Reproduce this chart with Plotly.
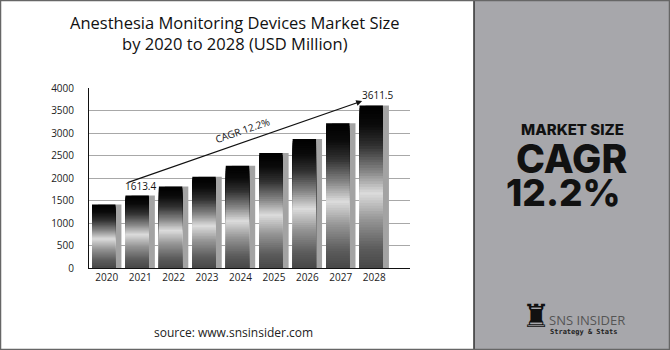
import plotly.graph_objects as go

years = ["2020", "2021", "2022", "2023", "2024", "2025", "2026", "2027", "2028"]
market_size = [1410, 1613.4, 1810, 2030, 2270, 2555, 2865, 3215, 3611.5]
y_ticks = [0, 500, 1000, 1500, 2000, 2500, 3000, 3500, 4000]
cagr_text = "CAGR 12.2%"

# gradient stops (fraction from bar bottom -> rgb)
stops = [(0.0, (72, 72, 72)), (0.12, (92, 92, 92)), (0.30, (150, 150, 150)),
         (0.46, (220, 220, 220)), (0.60, (130, 130, 130)), (0.75, (50, 50, 50)),
         (0.88, (10, 10, 10)), (1.0, (0, 0, 0))]


def grad(f):
    for (f0, c0), (f1, c1) in zip(stops[:-1], stops[1:]):
        if f0 <= f <= f1:
            t = (f - f0) / (f1 - f0)
            c = [round(a + (b - a) * t) for a, b in zip(c0, c1)]
            return "rgb(%d,%d,%d)" % tuple(c)
    return "rgb(0,0,0)"


fig = go.Figure()

# shadow bars
fig.add_trace(go.Bar(x=years, y=market_size, width=0.70, offset=-0.26,
                     marker=dict(color="#a3a3a3", line_width=0), hoverinfo="skip"))

N = 60
for k in range(N):
    frac = (N - k) / N
    fig.add_trace(go.Bar(
        x=years, y=[v * frac for v in market_size], width=0.70, offset=-0.44,
        marker=dict(color=grad((N - k - 0.5) / N), line_width=0),
        hoverinfo="skip"))

L, R, T, B = 89, 260, 88, 82
W = 670 - L - R
H = 350 - T - B


def px(xp):
    return (xp - L) / W


def py(yp):
    return (350 - B - yp) / H


fig.update_layout(
    barmode="overlay", showlegend=False, width=670, height=350,
    margin=dict(l=L, r=R, t=T, b=B),
    paper_bgcolor="white", plot_bgcolor="white",
    font=dict(family="Open Sans", color="#222"),
    xaxis=dict(type="category", range=[-0.53, 9.07], showline=True, linecolor="#111",
               linewidth=1, ticks="", tickfont=dict(size=10, color="#222"), showgrid=False),
    yaxis=dict(range=[0, 4000], tickvals=y_ticks, showline=True, linecolor="#111",
               linewidth=1, showgrid=True, gridcolor="#a8a8a8", gridwidth=1,
               zeroline=False, ticks="", ticklabelstandoff=12,
               tickfont=dict(size=10, color="#222")),
)

# right panel
fig.add_shape(type="rect", xref="paper", yref="paper", x0=px(474), x1=px(670),
              y0=py(350), y1=py(0), fillcolor="#a7a7ab", line=dict(color="#333", width=1.5),
              layer="below")
# outer border
fig.add_shape(type="rect", xref="paper", yref="paper", x0=px(0.5), x1=px(669.5),
              y0=py(349.5), y1=py(0.5), line=dict(color="#666", width=1.5),
              fillcolor="rgba(0,0,0,0)")


def note(text, x, y, size, family="Open Sans", color="#111", weight=400, xanchor="center"):
    fig.add_annotation(text=text, xref="paper", yref="paper", x=px(x), y=py(y),
                       showarrow=False, xanchor=xanchor, yanchor="middle",
                       font=dict(family=family, size=size, color=color, weight=weight))


note("Anesthesia Monitoring Devices Market Size<br>by 2020 to 2028 (USD Million)",
     235, 33.5, 16.5)

# value labels
fig.add_annotation(x=1, y=market_size[1], text=str(market_size[1]), showarrow=False,
                   yanchor="bottom", yshift=0, xshift=0, font=dict(size=10, color="#111"))
fig.add_annotation(x=8, y=market_size[8], text=str(market_size[8]), showarrow=False,
                   yanchor="bottom", yshift=1, xshift=3, font=dict(size=10, color="#111"))

# CAGR arrow
fig.add_annotation(x=7.64, y=3711, ax=0.6, ay=1890, xref="x", yref="y", axref="x", ayref="y",
                   text="", showarrow=True, arrowhead=2, arrowsize=1, arrowwidth=1.2,
                   arrowcolor="#111")
fig.add_annotation(x=4.07, y=3067, text=cagr_text, showarrow=False, textangle=-19,
                   xanchor="center", yanchor="middle", font=dict(size=10, color="#111"))

# source
note("source: www.snsinsider.com", 233, 332, 12, color="#222")

# panel texts
note("MARKET SIZE", 572, 129, 15, family="Inter", weight=800)
note("CAGR", 571, 158, 39, family="Inter", weight=800)
note("12.2%", 563, 192, 37, family="Inter", weight=800)

# logo
note("♜", 536, 316, 32, family="DejaVu Sans")
note("SNS INSIDER", 547, 320, 13, color="#555", xanchor="left")
note("Strategy & Stats", 548, 332, 7, family="DejaVu Sans Mono", color="#222",
     weight=700, xanchor="left")

fig.write_html("out.html")
